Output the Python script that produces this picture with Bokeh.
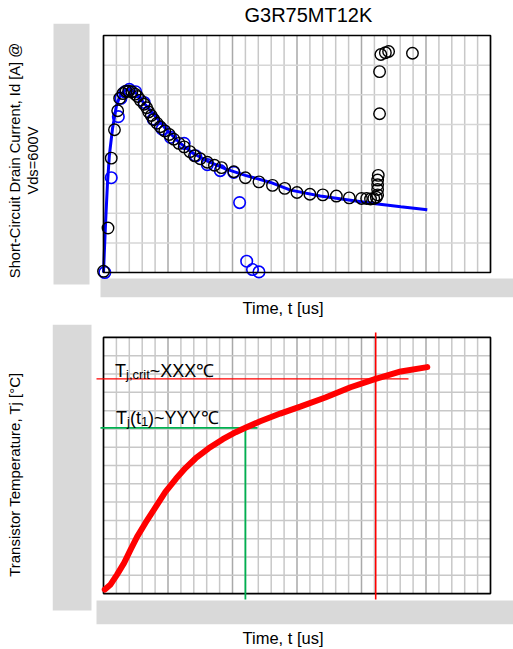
from bokeh.plotting import figure
from bokeh.layouts import column
from bokeh.models import Range1d, FixedTicker, Label
from bokeh.embed import file_html
from bokeh.resources import INLINE

# ---------------- data ----------------
title_text = "G3R75MT12K"
x_label = "Time, t [us]"
id_label = "Short-Circuit Drain Current, Id [A] @\nVds=600V"
tj_label = "Transistor Temperature, Tj [°C]"

black_t = [0.00, 0.07, 0.12, 0.17, 0.22, 0.25, 0.30, 0.35, 0.39, 0.44, 0.49, 0.53, 0.57, 0.63,
           0.67, 0.70, 0.74, 0.78, 0.83, 0.88, 0.95, 1.02, 1.09, 1.17, 1.25, 1.34, 1.41, 1.50,
           1.61, 1.72, 1.83, 2.02, 2.20, 2.41, 2.62, 2.81, 3.00, 3.20, 3.40, 3.61, 3.81, 4.00,
           4.08, 4.14, 4.19, 4.23, 4.25, 4.25, 4.25, 4.25, 4.26, 4.28, 4.28, 4.30, 4.37, 4.42, 4.79]
black_id = [2, 75, 193, 241, 273, 294, 302, 306, 306, 305, 301, 297, 291, 284,
            278, 271, 265, 258, 252, 246, 239, 233, 225, 218, 212, 204, 197, 192,
            186, 181, 177, 170, 160, 153, 147, 142, 135, 132, 131, 129, 126, 125,
            125, 124, 125, 127, 131, 140, 148, 156, 164, 268, 339, 368, 371, 373, 370]

blue_t = [0.02, 0.12, 0.23, 0.27, 0.33, 0.40, 0.50, 0.63, 0.77, 0.91, 1.04, 1.25, 1.43, 1.61,
          1.81, 2.02, 2.11, 2.22, 2.31, 2.41]
blue_id = [0, 160, 263, 294, 305, 309, 305, 287, 259, 242, 228, 218, 197, 182,
           172, 169, 118, 19, 5, 1]

fit_t = [0.00, 0.03, 0.06, 0.09, 0.14, 0.20, 0.26, 0.34, 0.42, 0.51, 0.65, 0.81, 0.96, 1.16,
         1.38, 1.63, 1.89, 2.20, 2.59, 2.90, 3.36, 3.83, 4.22, 4.61, 5.02]
fit_id = [0, 79, 147, 197, 243, 281, 300, 308, 309, 302, 283, 263, 243, 221,
          202, 187, 175, 164, 152, 139, 129, 122, 116, 111, 106]

tj_t = [0.02, 0.11, 0.21, 0.32, 0.42, 0.52, 0.65, 0.81, 0.96, 1.12, 1.27, 1.43, 1.63, 1.85,
        2.05, 2.20, 2.43, 2.74, 3.05, 3.44, 3.83, 4.22, 4.61, 5.02]
tj_val = [11, 25, 52, 84, 120, 155, 193, 237, 278, 313, 343, 370, 397, 422,
          441, 453, 471, 492, 511, 536, 564, 587, 607, 619]

t1 = 2.20
tj_t1 = 453
t_crit = 4.22
tj_crit = 587

x_major = [1, 2, 3, 4, 5]
x_minor = [0.2, 0.4, 0.6, 0.8, 1.2, 1.4, 1.6, 1.8, 2.2, 2.4, 2.6, 2.8,
           3.2, 3.4, 3.6, 3.8, 4.2, 4.4, 4.6, 4.8, 5.2, 5.4, 5.6, 5.8]
id_grid = [50, 100, 150, 200, 250, 300, 350]
tj_grid = [50, 100, 150, 200, 250, 300, 350, 400, 450, 500, 550, 600, 650]

X_MAX = 6
ID_MAX = 400
TJ_MAX = 700

# ---------------- layout / style (pixels) ----------------
FONT = "Liberation Sans"
W = 513
H1, H2 = 320, 329
GRAY = "#d9d9d9"
# framed grid box, canvas pixels
BOX_L, BOX_R = 103, 490
BOX1_T, BOX1_B = 35, 272
BOX2_T, BOX2_B = 17, 274
# plot frame (includes the grey masks)
FR_L, FR_R = 52, 513
FR1_T, FR1_B = 23, 297
FR2_T, FR2_B = 4, 305


def make_fig(h, fr_t, fr_b, box_t, box_b, ymax):
    sx = X_MAX / (BOX_R - BOX_L)
    sy = ymax / (box_b - box_t)
    xr = Range1d(-(BOX_L - FR_L) * sx, X_MAX + (FR_R - BOX_R) * sx)
    yr = Range1d(-(fr_b - box_b) * sy, ymax + (box_t - fr_t) * sy)
    p = figure(width=W, height=h, x_range=xr, y_range=yr,
               output_backend="svg", toolbar_location=None,
               min_border_left=FR_L, min_border_right=W - FR_R,
               min_border_top=fr_t, min_border_bottom=h - fr_b)
    p.xgrid.visible = False
    p.ygrid.visible = False
    p.outline_line_color = None
    p.background_fill_color = "white"
    p.border_fill_color = "white"
    for ax in (p.xaxis[0], p.yaxis[0]):
        ax.ticker = FixedTicker(ticks=[])
        ax.axis_line_color = None
        ax.major_tick_line_color = None
        ax.minor_tick_line_color = None
        ax.axis_label_text_font = FONT
        ax.axis_label_text_font_style = "normal"
        ax.axis_label_text_color = "#000000"
    p.xaxis.axis_label_text_font_size = "16.5px"

    def px_x(v):
        return (v - BOX_L) * sx

    def px_y(v):
        return (box_b - v) * sy

    return p, px_x, px_y


def draw_grid(p, ymax, ygrid, hcolor):
    p.segment(x0=x_minor, y0=0, x1=x_minor, y1=ymax, line_color="#c8c8c8", line_width=1.5)
    p.segment(x0=x_major, y0=0, x1=x_major, y1=ymax, line_color="#a9a9a9", line_width=1.5)
    p.segment(x0=0, y0=ygrid, x1=X_MAX, y1=ygrid, line_color=hcolor, line_width=1.5)


def gray(p, px_x, px_y, l, r, t, b):
    p.quad(left=px_x(l), right=px_x(r), top=px_y(t), bottom=px_y(b),
           fill_color=GRAY, line_color=None)


def outline(p, ymax):
    p.quad(left=0, right=X_MAX, bottom=0, top=ymax, fill_color=None,
           line_color="#000000", line_width=1.7)


# ---------------- top panel ----------------
p1, x1, y1 = make_fig(H1, FR1_T, FR1_B, BOX1_T, BOX1_B, ID_MAX)
p1.title.text = title_text
p1.title.align = "left"
p1.title.offset = 192
p1.title.standoff = -5
p1.title.text_font = FONT
p1.title.text_font_size = "20px"
p1.title.text_font_style = "normal"
p1.title.text_color = "#000000"
p1.xaxis.axis_label = x_label
p1.xaxis.axis_label_standoff = 1
p1.yaxis.axis_label = id_label
p1.yaxis.axis_label_text_font_size = "14.7px"
p1.yaxis.axis_label_text_line_height = 1.08
p1.yaxis.axis_label_standoff = 12

draw_grid(p1, ID_MAX, id_grid, "#d6d6d6")
gray(p1, x1, y1, 53, 89, 23, 284)
gray(p1, x1, y1, 100, 513, 278, 297)

p1.line(fit_t, fit_id, line_color="#0000ff", line_width=3)
p1.scatter(blue_t, blue_id, marker="circle", size=11.5, fill_color=None,
           line_color="#0000ff", line_width=1.6)
p1.scatter(black_t, black_id, marker="circle", size=11.5, fill_color=None,
           line_color="#000000", line_width=1.4)
outline(p1, ID_MAX)

# ---------------- bottom panel ----------------
p2, x2, y2 = make_fig(H2, FR2_T, FR2_B, BOX2_T, BOX2_B, TJ_MAX)
p2.xaxis.axis_label = x_label
p2.xaxis.axis_label_standoff = 4
p2.yaxis.axis_label = tj_label
p2.yaxis.axis_label_text_font_size = "15px"
p2.yaxis.axis_label_standoff = 30

draw_grid(p2, TJ_MAX, tj_grid, "#c8c8c8")
gray(p2, x2, y2, 52, 91, 4, 291)
gray(p2, x2, y2, 96, 513, 281, 305)
outline(p2, TJ_MAX)

# marker lines with their small overhangs (pixels)
p2.segment(x0=x2(96), y0=tj_crit, x1=x2(408), y1=tj_crit, line_color="#ff0000", line_width=1.2)
p2.segment(x0=t_crit, y0=y2(12), x1=t_crit, y1=y2(280), line_color="#ff0000", line_width=1.6)
p2.segment(x0=x2(100), y0=tj_t1, x1=x2(257), y1=tj_t1, line_color="#00b050", line_width=1.8)
p2.segment(x0=t1, y0=tj_t1, x1=t1, y1=y2(280), line_color="#00b050", line_width=1.8)

p2.line(tj_t, tj_val, line_color="#ff0000", line_width=6, line_cap="round")


def piece(p, text, yref, dx, dy, size):
    p.add_layout(Label(x=0, y=yref, x_offset=dx, y_offset=dy, text=text,
                       text_font=FONT, text_font_size=size, text_color="#000000",
                       text_baseline="alphabetic", text_align="left"))


piece(p2, "T", tj_crit, 11.5, 8.3, "18px")
piece(p2, "j,crit", tj_crit, 22.5, 4.8, "13px")
piece(p2, "~XXX℃", tj_crit, 46.3, 8.3, "18px")

piece(p2, "T", tj_t1, 12.5, 10, "18px")
piece(p2, "j", tj_t1, 23.5, 6.5, "13px")
piece(p2, "(t", tj_t1, 26.4, 10, "18px")
piece(p2, "1", tj_t1, 37.4, 6.5, "13px")
piece(p2, ")~YYY℃", tj_t1, 44.6, 10, "18px")

layout = column(p1, p2, spacing=0)
open("out.html", "w").write(file_html(layout, INLINE))
